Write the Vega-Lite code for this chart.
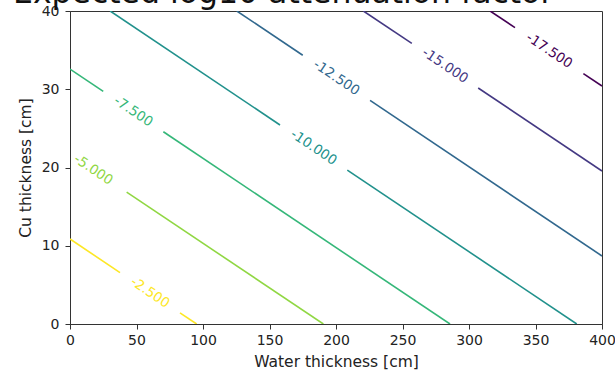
{
  "$schema": "https://vega.github.io/schema/vega-lite/v6.json",
  "width": 532,
  "height": 313,
  "autosize": {"type": "none"},
  "padding": {"left": 70, "top": 11, "right": 13, "bottom": 47},
  "title": {
    "text": "Expected log10 attenuation factor",
    "anchor": "start",
    "frame": "group",
    "dx": -57,
    "dy": 30,
    "offset": 0,
    "baseline": "alphabetic",
    "fontSize": 31.5,
    "font": "DejaVu Sans",
    "fontWeight": "normal",
    "color": "#111111"
  },
  "config": {
    "view": {"stroke": "#333333", "strokeWidth": 1},
    "axis": {
      "labelFont": "DejaVu Sans",
      "titleFont": "DejaVu Sans",
      "labelFontSize": 14,
      "titleFontSize": 15.5,
      "titleFontWeight": "normal",
      "labelColor": "#222222",
      "titleColor": "#222222",
      "tickColor": "#333333",
      "domainColor": "#333333",
      "tickSize": 5,
      "grid": false
    }
  },
  "datasets": {
    "lines": [
      {"level": "-2.500", "seg": "a", "w": 0, "c": 10.86},
      {"level": "-2.500", "seg": "a", "w": 37.6, "c": 6.57},
      {"level": "-2.500", "seg": "b", "w": 82.7, "c": 1.43},
      {"level": "-2.500", "seg": "b", "w": 95.2, "c": 0},
      {"level": "-5.000", "seg": "b", "w": 42.6, "c": 16.86},
      {"level": "-5.000", "seg": "b", "w": 190.5, "c": 0},
      {"level": "-7.500", "seg": "a", "w": 0, "c": 32.58},
      {"level": "-7.500", "seg": "a", "w": 25, "c": 29.73},
      {"level": "-7.500", "seg": "b", "w": 70.2, "c": 24.57},
      {"level": "-7.500", "seg": "b", "w": 285.7, "c": 0},
      {"level": "-10.000", "seg": "a", "w": 30.2, "c": 40},
      {"level": "-10.000", "seg": "a", "w": 157.9, "c": 25.43},
      {"level": "-10.000", "seg": "b", "w": 208.5, "c": 19.67},
      {"level": "-10.000", "seg": "b", "w": 381, "c": 0},
      {"level": "-12.500", "seg": "a", "w": 125.4, "c": 40},
      {"level": "-12.500", "seg": "a", "w": 175, "c": 34.34},
      {"level": "-12.500", "seg": "b", "w": 225.6, "c": 28.58},
      {"level": "-12.500", "seg": "b", "w": 400, "c": 8.69},
      {"level": "-15.000", "seg": "a", "w": 220.6, "c": 40},
      {"level": "-15.000", "seg": "a", "w": 257, "c": 35.86},
      {"level": "-15.000", "seg": "b", "w": 306.9, "c": 30.16},
      {"level": "-15.000", "seg": "b", "w": 400, "c": 19.55},
      {"level": "-17.500", "seg": "a", "w": 315.9, "c": 40},
      {"level": "-17.500", "seg": "a", "w": 334.6, "c": 37.87},
      {"level": "-17.500", "seg": "b", "w": 386, "c": 32.0},
      {"level": "-17.500", "seg": "b", "w": 400, "c": 30.41}
    ],
    "labels": [
      {"level": "-2.500", "w": 60.2, "c": 4.0},
      {"level": "-5.000", "w": 17.5, "c": 19.7},
      {"level": "-7.500", "w": 47.6, "c": 27.15},
      {"level": "-10.000", "w": 183.2, "c": 22.55},
      {"level": "-12.500", "w": 200.3, "c": 31.46},
      {"level": "-15.000", "w": 282, "c": 33.0},
      {"level": "-17.500", "w": 360.3, "c": 34.93}
    ]
  },
  "layer": [
    {
      "data": {"name": "lines"},
      "mark": {"type": "line", "strokeWidth": 1.6, "clip": true},
      "encoding": {
        "x": {
          "field": "w", "type": "quantitative",
          "scale": {"domain": [0, 400], "nice": false, "zero": false},
          "axis": {"values": [0, 50, 100, 150, 200, 250, 300, 350, 400], "title": "Water thickness [cm]", "labelPadding": 4, "titlePadding": 7, "labelFlush": false}
        },
        "y": {
          "field": "c", "type": "quantitative",
          "scale": {"domain": [0, 40], "nice": false, "zero": false},
          "axis": {"values": [0, 5, 10, 15, 20, 25, 30, 35, 40], "title": "Cu thickness [cm]", "labelPadding": 6, "titlePadding": 8, "labelFlush": false}
        },
        "color": {
          "field": "level", "type": "nominal",
          "scale": {
            "domain": ["-17.500", "-15.000", "-12.500", "-10.000", "-7.500", "-5.000", "-2.500"],
            "range": ["#440154", "#443983", "#31688e", "#21918c", "#35b779", "#90d743", "#fde725"]
          },
          "legend": null
        },
        "detail": {"field": "seg", "type": "nominal"}
      }
    },
    {
      "data": {"name": "labels"},
      "mark": {"type": "text", "angle": 34, "align": "center", "baseline": "middle", "font": "DejaVu Sans", "fontSize": 13.5},
      "encoding": {
        "x": {"field": "w", "type": "quantitative"},
        "y": {"field": "c", "type": "quantitative"},
        "text": {"field": "level", "type": "nominal"},
        "color": {"field": "level", "type": "nominal", "legend": null}
      }
    }
  ]
}
